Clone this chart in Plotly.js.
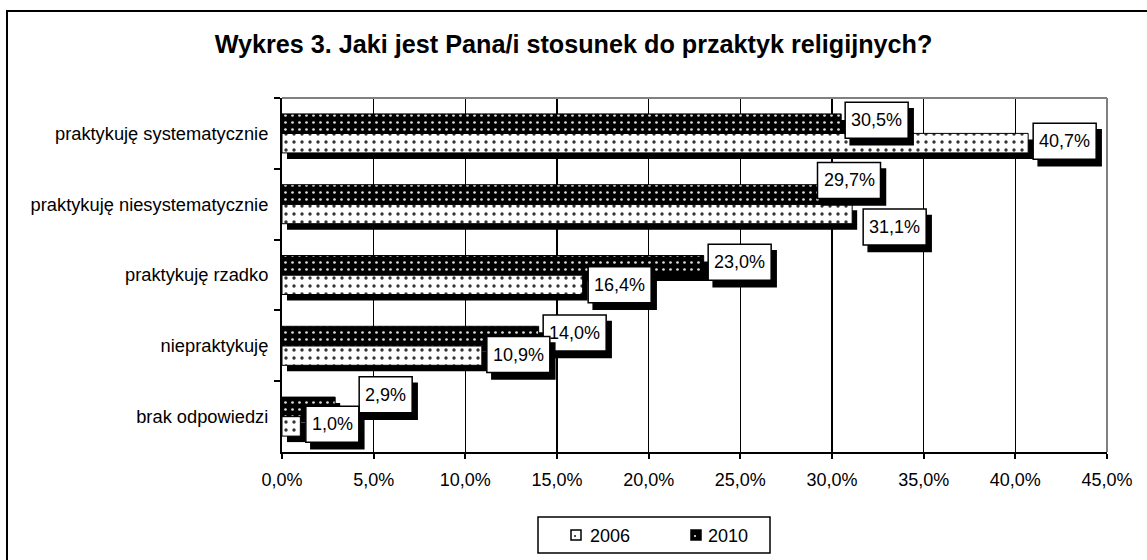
<!DOCTYPE html>
<html>
<head>
<meta charset="utf-8">
<script src="https://cdn.plot.ly/plotly-3.0.1.min.js"></script>
<style>html,body{margin:0;padding:0;background:#fff}#chart{width:1147px;height:560px}</style>
</head>
<body>
<div id="chart"></div>
<script>
// ---- data ----
const categories = ['praktykuję systematycznie', 'praktykuję niesystematycznie', 'praktykuję rzadko', 'niepraktykuję', 'brak odpowiedzi'];
const values2006 = [40.7, 31.1, 16.4, 10.9, 1.0];
const values2010 = [30.5, 29.7, 23.0, 14.0, 2.9];
const seriesNames = ['2006', '2010'];
const titleText = 'Wykres 3. Jaki jest Pana/i stosunek do przaktyk religijnych?';

// ---- style / layout ----
const FONT = 'Liberation Sans, Arial, sans-serif';
const FS = 18;
const M = {l: 282, r: 40, t: 98, b: 108};
const W = 1147, H = 560;
const plotW = W - M.l - M.r, plotH = H - M.t - M.b;
const catPx = plotH / categories.length;
const xMax = 45;
const pxPerX = plotW / xMax;
const barPx = 19.5;
const barW = barPx / catPx;
const shadowDx = 5, shadowDy = 6;
const boxH = 36, boxPad = 6, labShX = 5, labShY = 6.5;
// label nudges [dx px from bar end, dy px up from bar centre]
const nudge2010 = [[4, 3.5], [-9, 14], [4.5, 3], [4.5, 3], [24, 12]];
const nudge2006 = [[5, 2], [11, -13], [5.5, 0], [5, 1], [5.5, 2]];

const fmt = v => v.toFixed(1).replace('.', ',') + '%';

const ctx = document.createElement('canvas').getContext('2d');
ctx.font = FS + 'px "Liberation Sans", Arial, sans-serif';
const textW = s => ctx.measureText(s).width;

const pattern2006 = {shape: '.', bgcolor: 'white', fgcolor: '#333333', size: 8, solidity: 0.14, fillmode: 'replace'};
const pattern2010 = {shape: '.', bgcolor: 'black', fgcolor: '#dddddd', size: 7, solidity: 0.12, fillmode: 'replace'};

const traces = [
  {type: 'bar', orientation: 'h', y: categories, x: values2010, base: shadowDx / pxPerX,
   offset: -barW + shadowDy / catPx, width: barW, marker: {color: 'black', line: {width: 0}},
   showlegend: false, hoverinfo: 'skip'},
  {type: 'bar', orientation: 'h', y: categories, x: values2006, base: shadowDx / pxPerX,
   offset: shadowDy / catPx, width: barW, marker: {color: 'black', line: {width: 0}},
   showlegend: false, hoverinfo: 'skip'},
  {type: 'bar', orientation: 'h', name: seriesNames[0], y: categories, x: values2006,
   offset: 0, width: barW,
   marker: {color: 'white', line: {color: 'black', width: 1}, pattern: pattern2006},
   showlegend: false, hoverinfo: 'skip'},
  {type: 'bar', orientation: 'h', name: seriesNames[1], y: categories, x: values2010,
   offset: -barW, width: barW,
   marker: {color: 'black', line: {color: 'black', width: 1}, pattern: pattern2010},
   showlegend: false, hoverinfo: 'skip'}
];

const annotations = [];
const labelShapes = [];
function addLabels(vals, nudges, centreUp) {
  vals.forEach((v, i) => {
    const [dx, dy] = nudges[i];
    const txt = fmt(v);
    const bw = Math.round(textW(txt) + 2 * boxPad);
    const cy = centreUp + dy;
    const base = {type: 'rect', xref: 'x', yref: 'y', xsizemode: 'pixel', ysizemode: 'pixel',
      xanchor: v, yanchor: i, layer: 'above'};
    labelShapes.push(Object.assign({}, base, {x0: dx + labShX, x1: dx + labShX + bw,
      y0: cy - boxH / 2 - labShY, y1: cy + boxH / 2 - labShY,
      fillcolor: 'black', line: {color: 'black', width: 1.5}}));
    labelShapes.push(Object.assign({}, base, {x0: dx, x1: dx + bw,
      y0: cy - boxH / 2, y1: cy + boxH / 2,
      fillcolor: 'white', line: {color: 'black', width: 1.5}}));
    annotations.push({x: v, y: categories[i], xref: 'x', yref: 'y', showarrow: false,
      xanchor: 'center', yanchor: 'middle', xshift: dx + bw / 2, yshift: cy,
      text: txt, font: {family: FONT, size: FS, color: 'black'}});
  });
}
addLabels(values2010, nudge2010, barPx / 2);
addLabels(values2006, nudge2006, -barPx / 2);

const px2x = p => (p - M.l) / plotW;
const px2y = p => (H - M.b - p) / plotH;

// manual legend (box, swatches, texts)
const legendBox = {x0: 538, y0: 517, x1: 770, y1: 553};
const legendItems = [
  {name: seriesNames[0], sx: 571, tx: 588, fill: 'white', dot: '#555555'},
  {name: seriesNames[1], sx: 691, tx: 706, fill: 'black', dot: '#bbbbbb'}
];
const legendShapes = [
  {type: 'rect', xref: 'paper', yref: 'paper', x0: px2x(legendBox.x0), x1: px2x(legendBox.x1),
   y0: px2y(legendBox.y1), y1: px2y(legendBox.y0), line: {color: 'black', width: 1.5}, fillcolor: 'white'}
];
legendItems.forEach(it => {
  legendShapes.push({type: 'rect', xref: 'paper', yref: 'paper', x0: px2x(it.sx), x1: px2x(it.sx + 10),
    y0: px2y(540), y1: px2y(530), line: {color: 'black', width: 1.5}, fillcolor: it.fill});
  legendShapes.push({type: 'rect', xref: 'paper', yref: 'paper', x0: px2x(it.sx + 3), x1: px2x(it.sx + 5),
    y0: px2y(537), y1: px2y(535), line: {width: 0}, fillcolor: it.dot});
  annotations.push({xref: 'paper', yref: 'paper', x: px2x(it.tx), y: px2y(535.5), xanchor: 'left', yanchor: 'middle',
    showarrow: false, text: it.name, font: {family: FONT, size: FS, color: 'black'}});
});

const layout = {
  width: W, height: H, margin: M,
  paper_bgcolor: 'white', plot_bgcolor: 'white',
  separators: ', ',
  font: {family: FONT, size: FS, color: 'black'},
  title: {text: '<b>' + titleText + '</b>', font: {family: FONT, size: 25.2, color: 'black'},
          x: 0.5, xref: 'container', y: 1 - 44 / H, yref: 'container', yanchor: 'middle'},
  barmode: 'overlay',
  xaxis: {range: [0, xMax], dtick: 5, tick0: 0, tickformat: '.1f', ticksuffix: '%',
          showline: true, linecolor: 'black', linewidth: 2,
          ticks: 'outside', ticklen: 5, tickwidth: 2, tickcolor: 'black', ticklabelstandoff: 5,
          showgrid: true, gridcolor: 'black', gridwidth: 1.5, zeroline: false,
          tickfont: {family: FONT, size: FS, color: 'black'}, fixedrange: true},
  yaxis: {type: 'category', range: [categories.length - 0.5, -0.5],
          showline: true, linecolor: 'black', linewidth: 2,
          ticks: 'outside', ticklen: 6, tickwidth: 2, tickcolor: 'black', tickson: 'boundaries',
          ticklabelstandoff: 8, showgrid: false, zeroline: false,
          tickfont: {family: FONT, size: 18.3, color: 'black'}, fixedrange: true},
  showlegend: false,
  shapes: [
    {type: 'rect', xref: 'paper', yref: 'paper', x0: px2x(7), y0: px2y(600), x1: px2x(1200), y1: px2y(11),
     line: {color: 'black', width: 2}, fillcolor: 'rgba(0,0,0,0)', layer: 'below'},
    {type: 'line', xref: 'paper', yref: 'paper', x0: 0, x1: 1, y0: 1, y1: 1, line: {color: '#808080', width: 2}},
    {type: 'line', xref: 'paper', yref: 'paper', x0: 1, x1: 1, y0: 0, y1: 1, line: {color: '#808080', width: 2}}
  ].concat(labelShapes, legendShapes),
  annotations: annotations
};

Plotly.newPlot('chart', traces, layout, {displayModeBar: false, staticPlot: true});
</script>
</body>
</html>
